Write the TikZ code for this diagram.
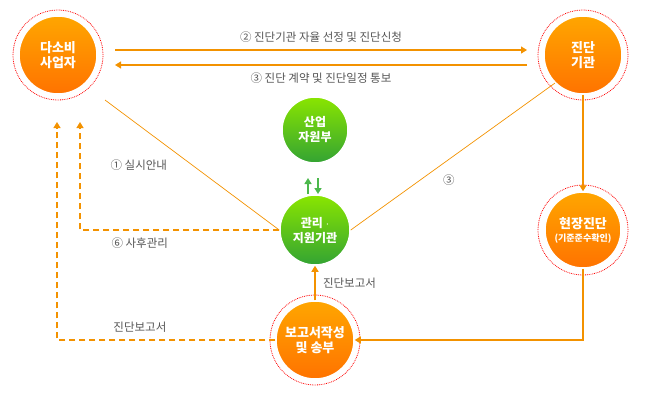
\documentclass[tikz,border=0pt]{standalone}
\usepackage{fontspec}
\setmainfont{Noto Sans CJK KR}
\usetikzlibrary{arrows.meta}
\definecolor{lineor}{HTML}{F39200}
\definecolor{txtgray}{HTML}{555555}
\tikzset{
  orcirc/.style={circle,minimum size=78pt,inner sep=0pt,align=center,text=white,
    font=\bfseries\fontsize{13}{15}\selectfont,
    top color=orange!70!yellow,bottom color=orange!90!red,draw=white,line width=1.5pt},
  ring/.style={circle,draw=red,densely dotted,line width=0.8pt,minimum size=90pt,inner sep=0pt},
  grcirc/.style={circle,minimum size=66pt,inner sep=0pt,align=center,text=white,
    font=\bfseries\fontsize{12}{15}\selectfont,
    top color=yellow!60!green!90!black,bottom color=green!55!black!80,draw=white,line width=1.5pt},
  flow/.style={lineor,line width=1.2pt,-{Triangle[width=7pt,length=6pt]}},
  dflow/.style={flow,dashed,dash pattern=on 6pt off 4pt},
  thin/.style={lineor,line width=0.7pt},
  lbl/.style={text=txtgray,font=\fontsize{11.5}{13}\selectfont}
}
\begin{document}
\begin{tikzpicture}[x=1pt,y=-1pt]
\useasboundingbox (0,0) rectangle (650,400);
% outer rings
\node[ring] at (58,55) {};
\node[ring] at (583,55) {};
\node[ring] at (583,230) {};
\node[ring] at (315,340) {};
% main nodes
\node[orcirc] (user) at (58,55) {다소비\\사업자};
\node[orcirc] (agency) at (583,55) {진단\\기관};
\node[orcirc,minimum size=76pt] (site) at (583,230) {현장진단\\[-2pt]{\fontsize{9}{10}\selectfont(기준준수확인)}};
\node[orcirc] (report) at (315,340) {보고서작성\\및 송부};
\node[grcirc] (mke) at (315,130) {산업\\자원부};
\node[grcirc,minimum size=70pt] (mgmt) at (315,230) {관리 $\cdot$\\지원기관};
% connectors
\coordinate (u1) at (115,50); \coordinate (a1) at (527,50);
\coordinate (u2) at (115,65); \coordinate (a2) at (527,65);
\draw[flow] (u1) -- node[lbl,above=4pt]{② 진단기관 자율 선정 및 진단신청} (a1);
\draw[flow] (a2) -- node[lbl,below=4pt]{③ 진단 계약 및 진단일정 통보} (u2);
\draw[thin] (105,100) -- node[lbl,pos=0.4,below left=4pt]{① 실시안내} (mgmt.west);
\draw[thin] (agency.south west) -- node[lbl,pos=0.58,below right=3pt]{③} (mgmt.east);
\draw[flow] (agency) -- (site);
\draw[flow] (site.south) |- (report);
\draw[dflow] (report) -| node[lbl,pos=0.31,above=4pt]{진단보고서} (57,122);
\draw[dflow] (mgmt) -| node[lbl,pos=0.35,below=4pt]{⑥ 사후관리} (80,122);
\draw[flow,line width=1.5pt] (report.north) -- node[lbl,right=4pt]{진단보고서} (mgmt.south);
\draw[flow,green!60!black!70,line width=2pt] (308,194) -- (308,178);
\draw[flow,green!60!black!70,line width=2pt] (318,178) -- (318,194);
\end{tikzpicture}
\end{document}
